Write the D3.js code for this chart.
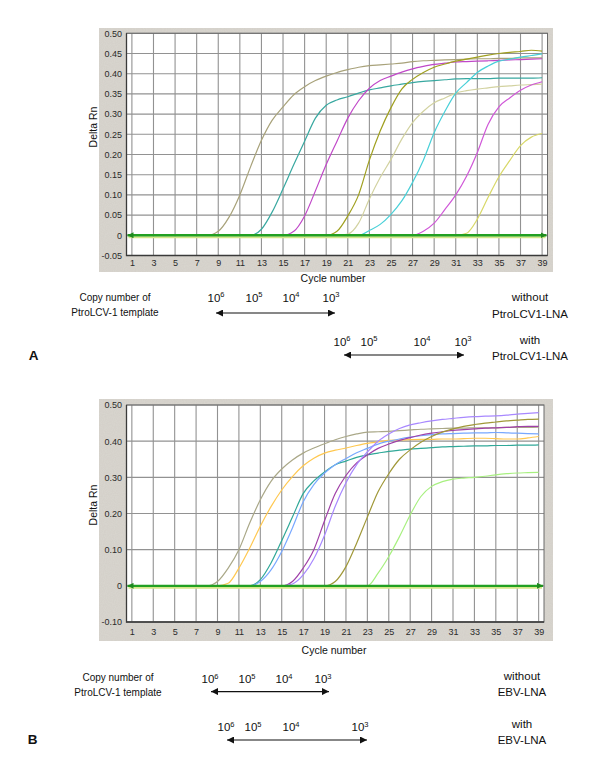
<!DOCTYPE html>
<html><head><meta charset="utf-8">
<script src="https://cdn.jsdelivr.net/npm/d3@7"></script>
<style>
body{margin:0;background:#fff}
svg{display:block}
text{font-family:"Liberation Sans",Arial,sans-serif}
</style>
</head><body>
<svg id="c" width="600" height="764"></svg>
<script>
// ---------------- DATA ----------------
const cycles = [1,2,3,4,5,6,7,8,9,10,11,12,13,14,15,16,17,18,19,20,21,22,23,24,25,26,27,28,29,30,31,32,33,34,35,36,37,38,39];
const xTicks = [1,3,5,7,9,11,13,15,17,19,21,23,25,27,29,31,33,35,37,39];
const yTicksA = [-0.05,0,0.05,0.10,0.15,0.20,0.25,0.30,0.35,0.40,0.45,0.50];
const yLabelsA = ["-0.05","0","0.05","0.10","0.15","0.20","0.25","0.30","0.35","0.40","0.45","0.50"];
const yTicksB = [-0.10,0,0.10,0.20,0.30,0.40,0.50];
const yLabelsB = ["-0.10","0","0.10","0.20","0.30","0.40","0.50"];

// Panel A curves (Delta Rn per cycle 1..39)
const a1 = [0,0,0,0,0,0,0,0,0.01,0.045,0.10,0.17,0.235,0.285,0.318,0.348,0.368,0.383,0.394,0.403,0.41,0.416,0.42,0.422,0.424,0.426,0.43,0.432,0.433,0.434,0.435,0.436,0.437,0.437,0.438,0.438,0.439,0.439,0.439];
const a2 = [0,0,0,0,0,0,0,0,0,0,0,0,0.015,0.058,0.115,0.175,0.233,0.29,0.322,0.335,0.343,0.352,0.36,0.365,0.37,0.374,0.378,0.381,0.383,0.385,0.387,0.388,0.388,0.388,0.389,0.389,0.389,0.389,0.39];
const a3 = [0,0,0,0,0,0,0,0,0,0,0,0,0,0,0,0.01,0.048,0.11,0.175,0.233,0.29,0.333,0.364,0.383,0.394,0.404,0.412,0.418,0.423,0.426,0.429,0.43,0.431,0.432,0.433,0.434,0.435,0.436,0.437];
const a4 = [0,0,0,0,0,0,0,0,0,0,0,0,0,0,0,0,0,0,0,0.01,0.048,0.10,0.186,0.258,0.316,0.362,0.386,0.403,0.416,0.424,0.431,0.436,0.441,0.446,0.45,0.453,0.455,0.458,0.456];
const a5 = [0,0,0,0,0,0,0,0,0,0,0,0,0,0,0,0,0,0,0,0,0.003,0.03,0.09,0.143,0.188,0.238,0.279,0.307,0.328,0.34,0.352,0.358,0.362,0.365,0.368,0.37,0.372,0.373,0.374];
const a6 = [0,0,0,0,0,0,0,0,0,0,0,0,0,0,0,0,0,0,0,0,0,0,0.012,0.027,0.052,0.085,0.131,0.186,0.254,0.307,0.352,0.378,0.403,0.419,0.431,0.436,0.441,0.445,0.449];
const a7 = [0,0,0,0,0,0,0,0,0,0,0,0,0,0,0,0,0,0,0,0,0,0,0,0,0,0,0,0.01,0.03,0.064,0.10,0.146,0.205,0.275,0.318,0.34,0.359,0.372,0.38];
const a8 = [0,0,0,0,0,0,0,0,0,0,0,0,0,0,0,0,0,0,0,0,0,0,0,0,0,0,0,0,0,0,0,0.005,0.04,0.094,0.145,0.185,0.222,0.243,0.252];
const colorsA = ["#a8a27a","#38a8a0","#c048c8","#a0a020","#d2d2a0","#48d0d8","#d058d8","#d8d868"];

// Panel B curves
const b1 = [0,0,0,0,0,0,0,0,0.012,0.049,0.10,0.173,0.238,0.289,0.323,0.348,0.367,0.381,0.393,0.404,0.413,0.42,0.425,0.426,0.427,0.429,0.431,0.433,0.434,0.435,0.436,0.436,0.437,0.437,0.437,0.438,0.438,0.438,0.439];
const b2 = [0,0,0,0,0,0,0,0,0,0.007,0.049,0.104,0.165,0.219,0.265,0.302,0.332,0.353,0.367,0.375,0.381,0.388,0.394,0.398,0.402,0.403,0.404,0.405,0.405,0.406,0.406,0.407,0.408,0.408,0.407,0.406,0.406,0.409,0.413];
const b3 = [0,0,0,0,0,0,0,0,0,0,0,0,0.017,0.063,0.125,0.19,0.255,0.29,0.315,0.335,0.345,0.355,0.362,0.367,0.372,0.375,0.378,0.38,0.382,0.384,0.385,0.386,0.387,0.387,0.388,0.388,0.389,0.389,0.39];
const b4 = [0,0,0,0,0,0,0,0,0,0,0,0,0.012,0.044,0.095,0.16,0.232,0.28,0.312,0.335,0.352,0.368,0.38,0.392,0.4,0.406,0.411,0.415,0.418,0.42,0.421,0.422,0.423,0.423,0.424,0.423,0.422,0.421,0.42];
const b5 = [0,0,0,0,0,0,0,0,0,0,0,0,0,0,0,0.012,0.049,0.10,0.18,0.255,0.305,0.34,0.362,0.38,0.392,0.402,0.41,0.417,0.422,0.426,0.43,0.432,0.434,0.436,0.437,0.438,0.44,0.441,0.441];
const b6 = [0,0,0,0,0,0,0,0,0,0,0,0,0,0,0,0.005,0.03,0.075,0.14,0.22,0.285,0.335,0.37,0.4,0.42,0.435,0.445,0.451,0.456,0.46,0.463,0.466,0.468,0.469,0.47,0.472,0.475,0.477,0.479];
const b7 = [0,0,0,0,0,0,0,0,0,0,0,0,0,0,0,0,0,0,0,0.012,0.053,0.118,0.19,0.26,0.31,0.35,0.376,0.397,0.413,0.425,0.434,0.441,0.446,0.45,0.453,0.456,0.458,0.46,0.461];
const b8 = [0,0,0,0,0,0,0,0,0,0,0,0,0,0,0,0,0,0,0,0,0,0,0,0.035,0.081,0.136,0.196,0.247,0.275,0.288,0.295,0.298,0.3,0.303,0.307,0.31,0.312,0.313,0.314];
const colorsB = ["#aaa888","#ffc850","#30a898","#78a8ff","#a040a8","#a888ff","#a09838","#a8f080"];

// annotation text
const exponentsA1 = [6,5,4,3];
const exponentsA2 = [6,5,4,3];
const exponentsB1 = [6,5,4,3];
const exponentsB2 = [6,5,4,3];

// ---------------- DRAW ----------------
const svg = d3.select("#c");
const defs = svg.append("defs");
function marker(id, color, w, h){
  const m = defs.append("marker").attr("id",id).attr("viewBox","0 0 10 10")
    .attr("refX",10).attr("refY",5).attr("markerWidth",w).attr("markerHeight",h)
    .attr("orient","auto-start-reverse").attr("markerUnits","userSpaceOnUse");
  m.append("path").attr("d","M0,0 L10,5 L0,10 Z").attr("fill",color);
}
marker("ga","#1e8a1e",6,6);
marker("ka","#111",8,7);
// grainy grey like the instrument-software screenshot
const f = defs.append("filter").attr("id","grain").attr("x",0).attr("y",0).attr("width","100%").attr("height","100%");
f.append("feTurbulence").attr("type","fractalNoise").attr("baseFrequency",0.9).attr("numOctaves",1).attr("seed",4).attr("result","n");
f.append("feColorMatrix").attr("in","n").attr("type","matrix")
  .attr("values","0 0 0 0 0.5  0 0 0 0 0.48  0 0 0 0 0.45  0 0 0 0.3 0").attr("result","g");
f.append("feComposite").attr("in","g").attr("in2","SourceGraphic").attr("operator","in").attr("result","gm");
const fm = f.append("feMerge");
fm.append("feMergeNode").attr("in","SourceGraphic");
fm.append("feMergeNode").attr("in","gm");

function panel(o){
  const g = svg.append("g");
  g.append("rect").attr("x",o.box[0]).attr("y",o.box[1])
    .attr("width",o.box[2]-o.box[0]).attr("height",o.box[3]-o.box[1]).attr("fill","#dad7d0")
    .attr("filter","url(#grain)");
  const x = d3.scaleLinear().domain([0.5,39.5]).range([o.plot[0],o.plot[2]]);
  const y = d3.scaleLinear().domain(o.yDomain).range([o.plot[3],o.plot[1]]);
  g.append("rect").attr("x",o.plot[0]).attr("y",o.plot[1])
    .attr("width",o.plot[2]-o.plot[0]).attr("height",o.plot[3]-o.plot[1]).attr("fill","#fff");
  // grid
  g.append("g").selectAll("line").data(xTicks).join("line")
    .attr("x1",d=>x(d)).attr("x2",d=>x(d)).attr("y1",o.plot[1]).attr("y2",o.plot[3])
    .attr("stroke","#929292").attr("stroke-width",1.1);
  g.append("g").selectAll("line").data(o.yTicks).join("line")
    .attr("x1",o.plot[0]).attr("x2",o.plot[2]).attr("y1",d=>y(d)).attr("y2",d=>y(d))
    .attr("stroke","#929292").attr("stroke-width",1.1);
  // curves
  const line = d3.line().x((d,i)=>x(cycles[i])).y(d=>y(d)).curve(d3.curveMonotoneX);
  o.series.forEach((s,i)=>{
    g.append("path").attr("d",line(s)).attr("fill","none")
      .attr("stroke",o.colors[i]).attr("stroke-width",1.2);
  });
  // baseline
  g.append("line").attr("x1",o.plot[0]+2).attr("x2",o.plot[2]-2)
    .attr("y1",y(0)+2).attr("y2",y(0)+2).attr("stroke","#d6e68a").attr("stroke-width",2);
  g.append("line").attr("x1",o.plot[0]+1).attr("x2",o.plot[2]-1)
    .attr("y1",y(0)).attr("y2",y(0)).attr("stroke","#22a022").attr("stroke-width",2.4)
    .attr("marker-start","url(#ga)").attr("marker-end","url(#ga)");
  // frame
  g.append("rect").attr("x",o.plot[0]).attr("y",o.plot[1])
    .attr("width",o.plot[2]-o.plot[0]).attr("height",o.plot[3]-o.plot[1])
    .attr("fill","none").attr("stroke","#6a6a6a").attr("stroke-width",1);
  g.append("path").attr("d",`M${o.plot[0]},${o.plot[1]}V${o.plot[3]}H${o.plot[2]}`)
    .attr("fill","none").attr("stroke","#3a3a3a").attr("stroke-width",1.3);
  // axes
  const ya = g.append("g").attr("transform",`translate(${o.plot[0]},0)`)
    .call(d3.axisLeft(y).tickValues(o.yTicks).tickFormat((d,i)=>o.yLabels[i]).tickSize(0).tickPadding(4.5));
  ya.select(".domain").remove();
  ya.selectAll("text").attr("font-size",9).attr("fill","#2a2a2a")
    .attr("font-family","'Liberation Sans',Arial,sans-serif");
  const xa = g.append("g").attr("transform",`translate(0,${o.plot[3]})`)
    .call(d3.axisBottom(x).tickValues(xTicks).tickSize(0).tickPadding(o.xPad));
  xa.select(".domain").remove();
  xa.selectAll("text").attr("font-size",9).attr("fill","#2a2a2a")
    .attr("font-family","'Liberation Sans',Arial,sans-serif");
  // titles
  g.append("text").attr("x",o.xTitle[0]).attr("y",o.xTitle[1]).attr("text-anchor","middle")
    .attr("font-size",10.5).attr("fill","#111").text("Cycle number");
  g.append("text").attr("transform",`translate(${o.yTitle[0]},${o.yTitle[1]}) rotate(-90)`)
    .attr("text-anchor","middle").attr("font-size",10.5).attr("fill","#111").text("Delta Rn");
}

panel({box:[99,28,553,272], plot:[126.5,33.3,547.5,255.5], yDomain:[-0.05,0.5],
  yTicks:yTicksA, yLabels:yLabelsA, series:[a1,a2,a3,a4,a5,a6,a7,a8], colors:colorsA,
  xPad:4.5, xTitle:[333,281.5], yTitle:[96.5,127]});
panel({box:[99,399,553,641], plot:[126.5,405,544,622], yDomain:[-0.10,0.5],
  yTicks:yTicksB, yLabels:yLabelsB, series:[b1,b2,b3,b4,b5,b6,b7,b8], colors:colorsB,
  xPad:6.5, xTitle:[334,653.5], yTitle:[96.5,505]});

// ---------------- ANNOTATIONS ----------------
function txt(x,y,s,size,weight){
  return svg.append("text").attr("x",x).attr("y",y).attr("text-anchor","middle")
    .attr("font-size",size).attr("font-weight",weight||"normal").attr("fill","#111").text(s);
}
function pow(x,y,e){
  const t = svg.append("text").attr("x",x).attr("y",y).attr("text-anchor","middle")
    .attr("font-size",11.5).attr("fill","#111");
  t.append("tspan").text("10");
  t.append("tspan").attr("dy",-4.5).attr("font-size",7.5).text(e);
}
function arrow(x1,x2,y){
  svg.append("line").attr("x1",x1+1).attr("x2",x2-1).attr("y1",y).attr("y2",y)
    .attr("stroke","#111").attr("stroke-width",1.1)
    .attr("marker-start","url(#ka)").attr("marker-end","url(#ka)");
}
function row(xs, exps, y, ax1, ax2, ay){
  exps.forEach((e,i)=>pow(xs[i],y,e));
  arrow(ax1,ax2,ay);
}
// Panel A
txt(115,301,"Copy number of",10);
txt(115,316,"PtroLCV-1 template",10);
row([216,254,291,331],exponentsA1,301.5,215,336,313);
row([342,369,422,463],exponentsA2,345.5,343,465,355);
txt(530,301,"without",11.5);
txt(530,317.5,"PtroLCV1-LNA",11.5);
txt(530,344,"with",11.5);
txt(530,359.5,"PtroLCV1-LNA",11.5);
txt(33.5,360,"A",13.5,"bold");
// Panel B
txt(118,680.5,"Copy number of",10);
txt(118,695.5,"PtroLCV-1 template",10);
row([210,247,284,323],exponentsB1,683,210,330,691.6);
row([226,253,291,360],exponentsB2,731,226,368,740);
txt(522,680,"without",11.5);
txt(522,696,"EBV-LNA",11.5);
txt(522,728,"with",11.5);
txt(522,744,"EBV-LNA",11.5);
txt(32.5,743.5,"B",13.5,"bold");
</script>
</body></html>
